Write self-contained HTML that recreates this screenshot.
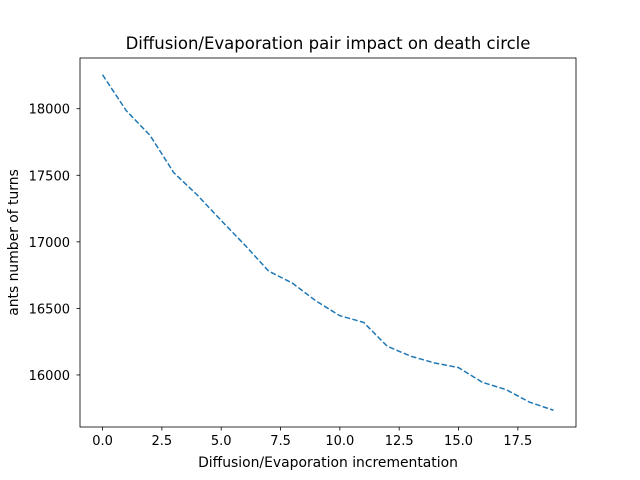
<!DOCTYPE html>
<html><head><meta charset="utf-8"><style>body{margin:0;background:#fff}svg{display:block}text{font-family:"DejaVu Sans","Liberation Sans",sans-serif;fill:#000}</style></head>
<body>
<svg id="chart" width="640" height="480" xmlns="http://www.w3.org/2000/svg"></svg>
<script>
const xValues=[0,1,2,3,4,5,6,7,8,9,10,11,12,13,14,15,16,17,18,19];
const yValues=[18255,17985,17800,17520,17350,17160,16975,16780,16690,16555,16445,16395,16215,16140,16090,16055,15945,15890,15795,15735];
const xTicks=[0,2.5,5,7.5,10,12.5,15,17.5];
const xTickLabels=["0.0","2.5","5.0","7.5","10.0","12.5","15.0","17.5"];
const yTicks=[16000,16500,17000,17500,18000];
const yTickLabels=["16000","16500","17000","17500","18000"];

const L=80,R=576,T=58,B=427;
const xmin=Math.min(...xValues),xmax=Math.max(...xValues),xm=(xmax-xmin)*0.05;
const ymin=Math.min(...yValues),ymax=Math.max(...yValues),ym=(ymax-ymin)*0.05;
const sx=v=>L+(v-(xmin-xm))/((xmax+xm)-(xmin-xm))*(R-L);
const sy=v=>B-(v-(ymin-ym))/((ymax+ym)-(ymin-ym))*(B-T);
const svg=document.getElementById('chart');
const NS="http://www.w3.org/2000/svg";
function mk(tag,attrs,txt){const e=document.createElementNS(NS,tag);for(const k in attrs)e.setAttribute(k,attrs[k]);if(txt!==undefined)e.textContent=txt;svg.appendChild(e);return e;}

const frame=mk('rect',{x:L,y:T,width:R-L,height:B-T,fill:'none',stroke:'#000','stroke-width':0.8});



xTicks.forEach((t,i)=>{
  const x=sx(t);
  const tk=mk('line',{x1:x,x2:x,y1:B,y2:B+3.5,stroke:'#000','stroke-width':0.8});
  
  
  const lb=mk('text',{x:x,y:B+18,'text-anchor':'middle','font-size':'13px'},xTickLabels[i]);
  
  
});
yTicks.forEach((t,i)=>{
  const y=sy(t);
  const tk=mk('line',{x1:L-3.5,x2:L,y1:y,y2:y,stroke:'#000','stroke-width':0.8});
  
  
  const lb=mk('text',{x:L-10,y:y+5,'text-anchor':'end','font-size':'13px'},yTickLabels[i]);
  
  
});

const pts=xValues.map((x,i)=>sx(x)+','+sy(yValues[i])).join(' ');
const line=mk('polyline',{points:pts,fill:'none',stroke:'#1f77b4','stroke-width':1.5,'stroke-dasharray':'5.5,2.4'});



const title=mk('text',{x:(L+R)/2,y:49,'text-anchor':'middle','font-size':'16.5px'},'Diffusion/Evaporation pair impact on death circle');


const xt=mk('text',{x:(L+R)/2,y:467,'text-anchor':'middle','font-size':'13.9px'},'Diffusion/Evaporation incrementation');


const yt=mk('text',{x:0,y:0,'text-anchor':'middle','font-size':'13.9px',transform:'translate(18,'+((T+B)/2)+') rotate(-90)'},'ants number of turns');


</script>
</body></html>
